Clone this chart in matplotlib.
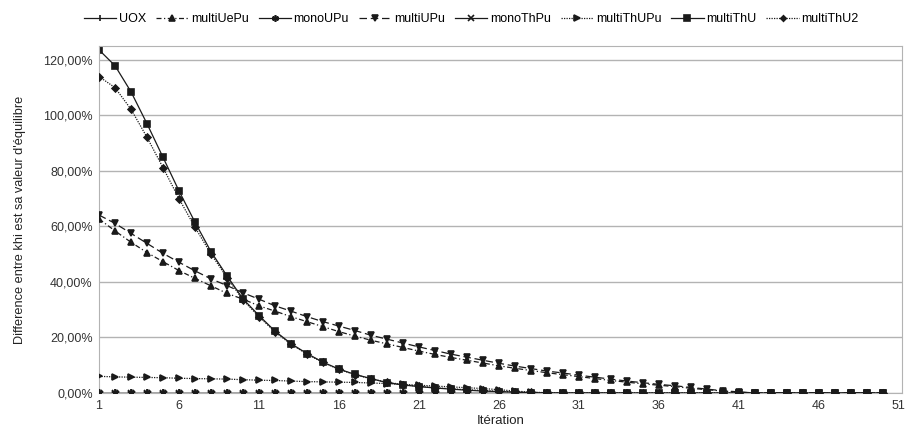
#!/usr/bin/env python3
"""Convergence of khi towards its equilibrium value for each fuel cycle scenario."""
import matplotlib
matplotlib.use("Agg")
import matplotlib.pyplot as plt
from matplotlib.ticker import FuncFormatter

plt.rcParams["font.family"] = ["Liberation Sans", "DejaVu Sans"]

# relative difference (%) per iteration
uox = [0.0] * 34
mono_upu = [0.0] * 34
mono_thpu = [0.0] * 34
multi_uepu = [62.7, 58.4, 54.3, 50.6, 47.3, 44.1, 41.3, 38.6, 35.9, 33.8,
              31.4, 29.5, 27.5, 25.7, 23.9, 22.1, 20.5, 19.0, 17.7, 16.4,
              15.1, 13.9, 12.8, 11.8, 10.8, 9.8, 8.9, 8.1, 7.3, 6.6,
              5.9, 5.2, 4.5, 3.9, 3.3, 2.8, 2.3, 1.7, 1.2, 0.7,
              0.3, 0.0, 0.0, 0.0, 0.0, 0.0, 0.0, 0.0, 0.0, 0.0]
multi_upu = [64.1, 61.1, 57.5, 53.9, 50.3, 47.1, 44.0, 41.1, 38.7, 36.1,
             33.8, 31.4, 29.5, 27.5, 25.7, 24.1, 22.5, 20.8, 19.4, 18.0,
             16.6, 15.3, 14.0, 12.9, 11.8, 10.7, 9.7, 8.8, 7.9, 7.2,
             6.4, 5.7, 5.0, 4.3, 3.7, 3.1, 2.6, 2.0, 1.4, 0.8,
             0.4, 0.0, 0.0, 0.0, 0.0, 0.0, 0.0, 0.0, 0.0, 0.0]
multi_thupu = [6.0, 5.8, 5.7, 5.6, 5.5, 5.3, 5.2, 5.1, 5.0, 4.8,
               4.6, 4.5, 4.3, 4.1, 4.0, 3.9, 3.8, 3.6, 3.4, 3.1,
               2.8, 2.5, 2.2, 1.9, 1.6, 1.2, 0.7, 0.3, 0.1, 0.0,
               0.0, 0.0, 0.0, 0.0, 0.0, 0.0, 0.0, 0.0, 0.0, 0.0,
               0.0, 0.0, 0.0, 0.0, 0.0, 0.0, 0.0, 0.0, 0.0, 0.0]
multi_thu = [123.6, 117.9, 108.5, 97.0, 84.9, 72.8, 61.5, 50.9, 42.2, 33.9,
             27.9, 22.3, 17.8, 14.2, 11.1, 8.6, 6.7, 5.2, 3.7, 2.9,
             2.3, 1.8, 1.4, 1.0, 0.7, 0.5, 0.3, 0.1, 0.0, 0.0,
             0.0, 0.0, 0.0, 0.0, 0.0, 0.0, 0.0, 0.0, 0.0, 0.0,
             0.0, 0.0, 0.0, 0.0, 0.0, 0.0, 0.0, 0.0, 0.0, 0.0]
multi_thu2 = [114.0, 110.0, 102.2, 92.1, 81.2, 70.0, 59.7, 50.1, 41.6, 33.5,
              27.5, 22.0, 17.6, 14.0, 11.0, 8.5, 6.6, 5.1, 3.9, 3.0,
              2.4, 1.9, 1.5, 1.2, 0.9, 0.6, 0.4, 0.2, 0.1, 0.0,
              0.0, 0.0, 0.0, 0.0, 0.0, 0.0, 0.0, 0.0, 0.0, 0.0,
              0.0, 0.0, 0.0, 0.0, 0.0, 0.0, 0.0, 0.0, 0.0, 0.0]

x_ticks = [1, 6, 11, 16, 21, 26, 31, 36, 41, 46, 51]
y_ticks = [0.0, 0.2, 0.4, 0.6, 0.8, 1.0, 1.2]

LINE = "#1a1a1a"
series = [
    ("UOX", uox, "-", "|", 6, 4),
    ("multiUePu", multi_uepu, (0, (4, 2, 1, 2)), "^", 5, 3),
    ("monoUPu", mono_upu, "-", (6, 2, 0), 6, 4),
    ("multiUPu", multi_upu, (0, (6, 3)), "v", 5, 3),
    ("monoThPu", mono_thpu, "-", "x", 5, 4),
    ("multiThUPu", multi_thupu, (0, (1, 1)), ">", 5, 3),
    ("multiThU", multi_thu, "-", "s", 5, 2),
    ("multiThU2", multi_thu2, (0, (1, 1)), "D", 3.5, 3),
]


def main():
    fig = plt.figure(figsize=(9.06, 4.28), dpi=100)
    ax = fig.add_axes([0.1093, 0.0818, 0.8863, 0.8107])

    handles = []
    for name, vals, ls, mk, ms, z in series:
        xs = list(range(1, len(vals) + 1))
        ys = [v / 100 for v in vals]
        (h,) = ax.plot(xs, ys, ls=ls, lw=0.9, color=LINE, marker=mk, ms=ms,
                       mec=LINE, mfc=LINE, mew=1.2, label=name, zorder=z)
        handles.append(h)

    ax.set_xlim(1, 51.2)
    ax.set_ylim(0, 1.25)
    ax.set_xticks(x_ticks)
    ax.set_yticks(y_ticks)
    ax.yaxis.set_major_formatter(FuncFormatter(lambda v, _: f"{v * 100:.2f}%".replace(".", ",")))
    ax.tick_params(axis="y", length=0, labelsize=9, colors="#333333", pad=4.5)
    ax.tick_params(axis="x", length=0, labelsize=9, colors="#333333", pad=5)
    ax.grid(axis="y", color="#b3b3b3", lw=1)
    ax.set_axisbelow(True)
    for s in ax.spines.values():
        s.set_color("#b3b3b3")

    ax.set_xlabel("Itération", fontsize=9.5, labelpad=2, color="#222222")
    ax.set_ylabel("Difference entre khi est sa valeur d'équilibre", fontsize=9.2,
                  labelpad=12, color="#222222")

    fig.legend(handles=handles, loc="center", bbox_to_anchor=(0.52, 0.955), ncol=8,
               frameon=False, fontsize=9, handlelength=2.6, handletextpad=0.2,
               columnspacing=0.8, markerscale=0.8)

    fig.savefig("out.png", dpi=100)
    plt.close(fig)


if __name__ == "__main__":
    main()
